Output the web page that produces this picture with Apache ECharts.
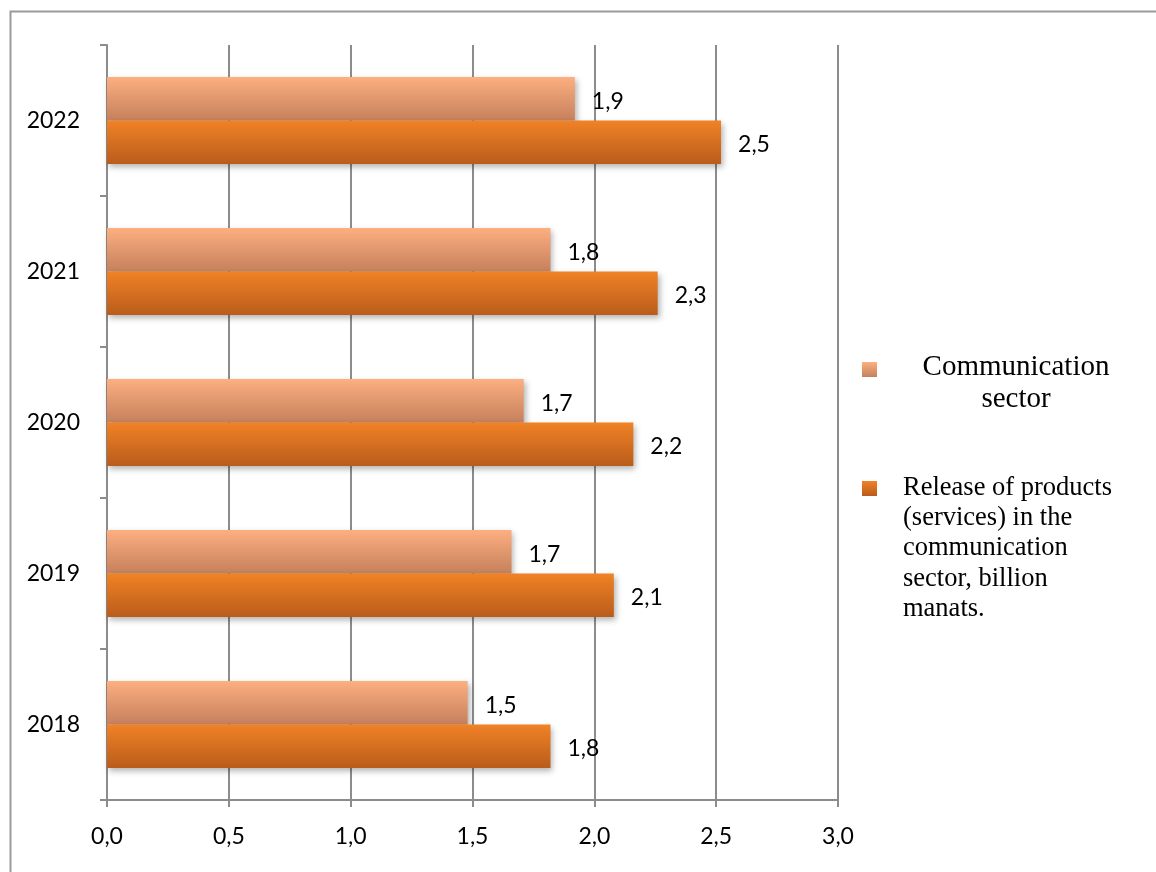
<!DOCTYPE html>
<html>
<head>
<meta charset="utf-8">
<style>
  html, body { margin: 0; padding: 0; background: #ffffff; }
  #chart { width: 1156px; height: 872px; }
</style>
<script src="https://cdn.jsdelivr.net/npm/echarts@6/dist/echarts.min.js"></script>
</head>
<body>
<div id="chart"></div>
<script>
// Years on the category axis (bottom to top)
const years = ['2018', '2019', '2020', '2021', '2022'];

// Communication sector
const communicationSector = [1.48, 1.66, 1.71, 1.82, 1.92];

// Release of products (services) in the communication sector, billion manats
const releaseOfProducts = [1.82, 2.08, 2.16, 2.26, 2.52];

// Value axis range and step
const xMin = 0;
const xMax = 3;
const xStep = 0.5;

const seriesNames = [
  'Communication sector',
  'Release of products (services) in the communication sector, billion manats.'
];

// Legend captions, broken into lines
const legendLines = [
  ['Communication', 'sector'],
  ['Release of products', '(services) in the', 'communication', 'sector, billion', 'manats.']
];

const commaFmt = (v) => Number(v).toFixed(1).replace('.', ',');

const gridGray = '#8c8c8c';
const tickFont = 'Lato, "Open Sans", sans-serif';
const serifFont = '"Liberation Serif", "Times New Roman", serif';

function vGrad(top, bottom) {
  return new echarts.graphic.LinearGradient(0, 0, 0, 1, [
    { offset: 0, color: top },
    { offset: 1, color: bottom }
  ]);
}

const lightFill = vGrad('#fdaf80', '#c5805c');
const darkFill = vGrad('#f18226', '#b95c1b');

const barShadow = {
  shadowBlur: 6,
  shadowOffsetX: 2,
  shadowOffsetY: 3,
  shadowColor: 'rgba(0,0,0,0.3)'
};

const valueLabel = {
  show: true,
  position: 'right',
  distance: 17,
  offset: [0, 2.5],
  formatter: (p) => commaFmt(p.value),
  fontFamily: tickFont,
  fontSize: 23,
  color: '#000000'
};

function legendIcon(name, top) {
  return {
    data: [name],
    left: 862,
    top: top,
    icon: 'rect',
    itemWidth: 15,
    itemHeight: 15,
    selectedMode: false,
    formatter: () => '',
    padding: 0
  };
}

const chart = echarts.init(document.getElementById('chart'), null, { renderer: 'canvas' });

chart.setOption({
  backgroundColor: '#ffffff',
  animation: false,
  grid: { left: 107, right: 318, top: 45, bottom: 72, containLabel: false },
  xAxis: {
    type: 'value',
    min: xMin,
    max: xMax,
    interval: xStep,
    axisLine: { show: true, lineStyle: { color: gridGray, width: 2 } },
    axisTick: { show: true, length: 7, lineStyle: { color: gridGray, width: 2 } },
    splitLine: { show: true, lineStyle: { color: gridGray, width: 2 } },
    axisLabel: {
      formatter: commaFmt,
      fontFamily: tickFont,
      fontSize: 23,
      color: '#000000',
      margin: 25
    }
  },
  yAxis: {
    type: 'category',
    data: years,
    axisLine: { show: true, onZero: false, lineStyle: { color: gridGray, width: 2 } },
    axisTick: { show: true, length: 7, alignWithLabel: false, lineStyle: { color: gridGray, width: 2 } },
    splitLine: { show: false },
    axisLabel: {
      fontFamily: tickFont,
      fontSize: 23,
      color: '#000000',
      margin: 27
    }
  },
  legend: [
    legendIcon(seriesNames[0], 362),
    legendIcon(seriesNames[1], 481)
  ],
  series: [
    {
      name: seriesNames[0],
      type: 'bar',
      data: communicationSector,
      barWidth: 43.5,
      barGap: '0%',
      itemStyle: Object.assign({ color: lightFill }, barShadow),
      label: valueLabel
    },
    {
      name: seriesNames[1],
      type: 'bar',
      data: releaseOfProducts,
      barWidth: 43.5,
      barGap: '0%',
      itemStyle: Object.assign({ color: darkFill }, barShadow),
      label: valueLabel
    }
  ],
  graphic: [
    {
      type: 'polyline',
      silent: true,
      shape: { points: [[10.5, 872], [10.5, 11.5], [1156, 11.5]] },
      style: { stroke: '#9a9a9a', lineWidth: 2, fill: null }
    },
    {
      type: 'text',
      silent: true,
      x: 1016,
      y: 351,
      style: {
        text: legendLines[0].join('\n'),
        font: '29px ' + serifFont,
        lineHeight: 32,
        align: 'center',
        verticalAlign: 'top',
        fill: '#000000'
      }
    },
    {
      type: 'text',
      silent: true,
      x: 903,
      y: 473,
      style: {
        text: legendLines[1].join('\n'),
        font: '26.5px ' + serifFont,
        lineHeight: 30.2,
        align: 'left',
        verticalAlign: 'top',
        fill: '#000000'
      }
    }
  ]
});
</script>
</body>
</html>
